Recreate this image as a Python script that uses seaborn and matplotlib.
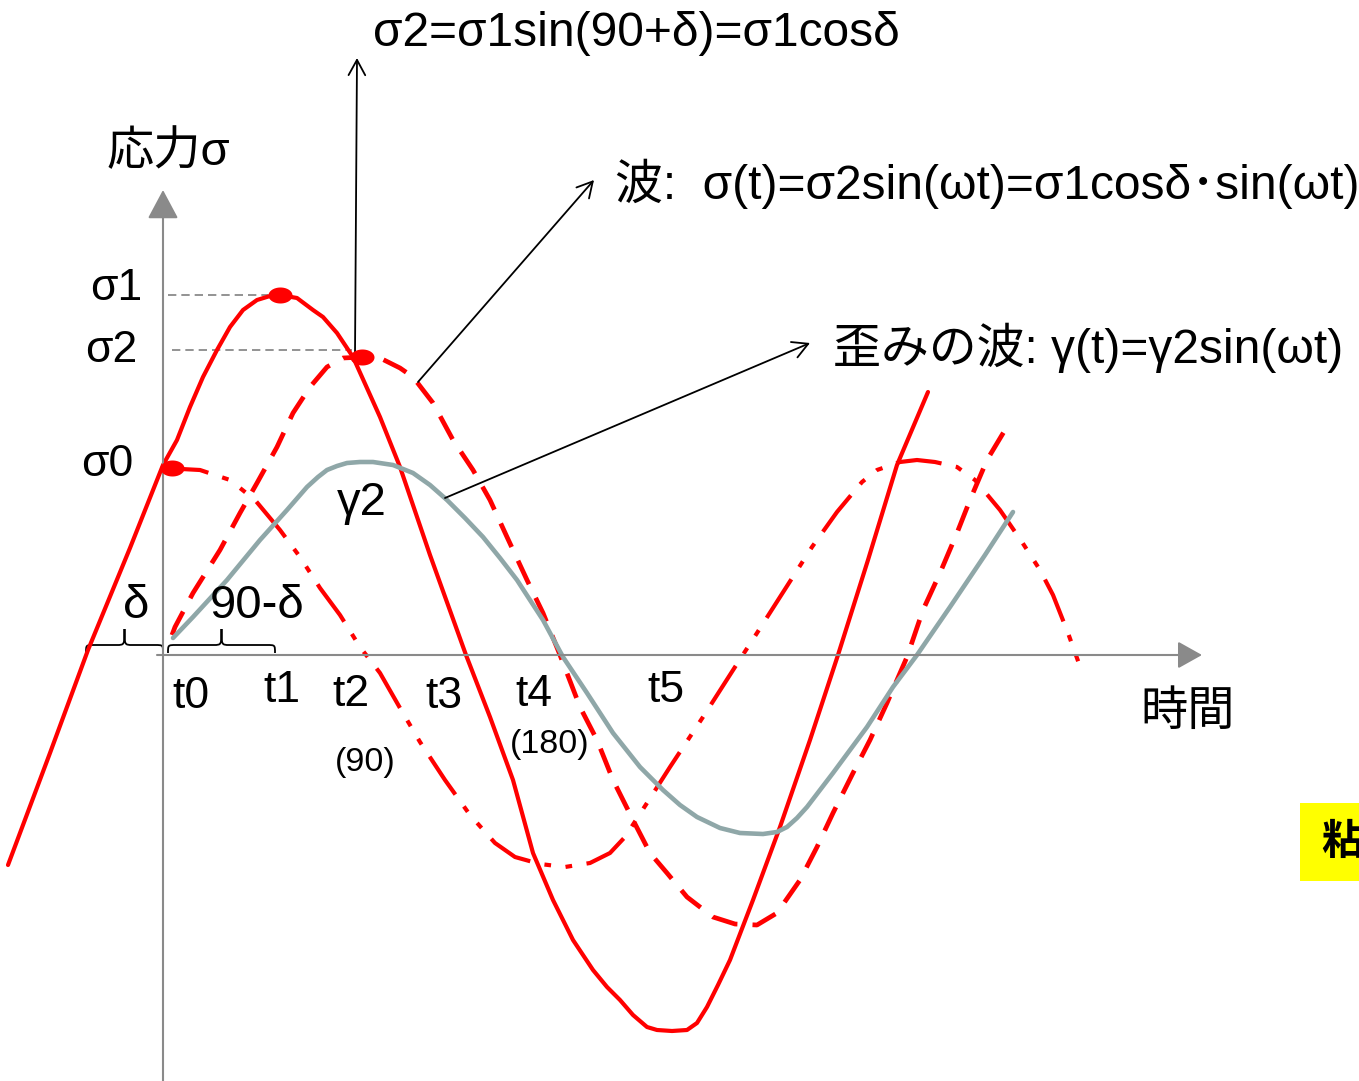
import matplotlib
matplotlib.use("Agg")
import matplotlib.pyplot as plt
import seaborn as sns
from matplotlib.path import Path
from matplotlib.patches import PathPatch, Rectangle
import numpy as np

# curves in pixel coordinates (y grows downward)
stress_x = [8, 50, 88, 130, 163, 177, 190, 203, 217, 230, 243, 257, 270, 280, 297, 313, 323, 337,
            353, 380, 400, 430, 466, 490, 513, 533, 553, 573, 593, 607, 620, 633, 647, 657, 672, 687,
            697, 707, 718, 730, 753, 780, 810, 838, 868, 897, 928]
stress_y = [865, 753, 650, 548, 465, 440, 407, 377, 350, 327, 310, 300, 296, 295, 298, 310, 317, 333,
            357, 417, 467, 555, 655, 717, 780, 853, 900, 940, 970, 987, 1000, 1015, 1027, 1030, 1031,
            1030, 1023, 1007, 985, 960, 900, 827, 740, 655, 560, 465, 392]

wave_x = [172, 175, 193, 220, 240, 257, 277, 293, 310, 327, 343, 363, 380, 400, 413, 433, 453, 473,
          490, 507, 527, 543, 560, 580, 597, 613, 633, 650, 667, 687, 713, 735, 757, 777, 800, 817,
          833, 853, 870, 887, 907, 923, 940, 957, 970, 987, 1005]
wave_y = [635, 627, 593, 550, 513, 483, 447, 413, 387, 367, 358, 357, 358, 368, 377, 403, 440, 470,
          500, 537, 580, 613, 655, 707, 740, 780, 820, 853, 873, 897, 917, 924, 925, 913, 880, 847,
          813, 773, 740, 703, 657, 610, 573, 533, 500, 460, 430]

strain_x = [173, 193, 227, 260, 287, 307, 318, 327, 337, 347, 360, 373, 393, 413, 430, 447, 465, 483,
            500, 517, 543, 563, 587, 613, 640, 663, 680, 697, 720, 740, 763, 777, 787, 797, 807, 833,
            867, 893, 917, 950, 985, 1013]
strain_y = [638, 617, 580, 540, 510, 487, 477, 470, 466, 463, 462, 462, 465, 473, 485, 500, 518, 537,
            558, 580, 620, 657, 693, 733, 767, 790, 805, 817, 828, 833, 834, 832, 827, 818, 807, 773,
            727, 687, 655, 607, 555, 512]

shift_x = [163, 200, 230, 255, 280, 300, 320, 340, 360, 380, 400, 420, 445, 470, 495, 515, 540, 565,
           590, 610, 625, 647, 670, 703, 735, 757, 780, 812, 837, 862, 877, 900, 917, 935, 957, 975,
           1000, 1022, 1040, 1053, 1068, 1082]
shift_y = [468, 470, 480, 500, 530, 557, 588, 615, 647, 673, 708, 742, 780, 815, 843, 857, 864, 867,
           863, 853, 837, 803, 767, 717, 667, 633, 597, 547, 512, 482, 470, 462, 460, 462, 467, 480,
           510, 542, 570, 595, 633, 672]

# σ1, σ2, σ0 points
peak_x = [280, 362, 172]
peak_y = [295, 357, 468]
peak_labels = ["σ1", "σ2", "σ0"]
peak_label_x = [142, 137, 133]
peak_label_y = [288, 350, 465]

# time ticks
t_labels = ["t0", "t1", "t2", "t3", "t4", "t5"]
t_x = [172, 263, 332, 425, 515, 647]
t_y = [697, 690, 695, 697, 695, 690]
deg_labels = ["(90)", "(180)"]
deg_x = [335, 510]
deg_y = [762, 745]

# braces (start, end)
brace_start = [86, 168]
brace_end = [163, 275]
brace_text = ["δ", "90-δ"]
brace_text_x = [123, 210]

formulas = ["σ2=σ1sin(90+δ)=σ1cosδ", "波:  σ(t)=σ2sin(ωt)=σ1cosδ\uff65sin(ωt)", "歪みの波: γ(t)=γ2sin(ωt)"]
formula_pos = [(373, 34), (615, 184), (833, 348)]
arrow_from = [(355, 355), (418, 382), (445, 498)]
arrow_to = [(357, 58), (594, 180), (810, 343)]

RED = "#ff0000"
GRAY_LINE = "#8fa7a8"
AXIS = "#8a8a8a"

sns.set_theme(style="white")
plt.rcParams["font.family"] = ["Liberation Sans", "Noto Sans CJK JP"]
plt.rcParams["text.color"] = "black"

fig = plt.figure(figsize=(13.59, 10.81), dpi=100)
ax = fig.add_axes([0, 0, 1, 1])
ax.set_xlim(0, 1359)
ax.set_ylim(1081, 0)
ax.axis("off")

# axes with arrows
ax.annotate("", xy=(163, 190), xytext=(163, 1081),
            arrowprops=dict(arrowstyle="-|>,head_length=0.9,head_width=0.48", color=AXIS, lw=1.5,
                            mutation_scale=20, shrinkA=0, shrinkB=0))
ax.annotate("", xy=(1202, 655), xytext=(157, 655),
            arrowprops=dict(arrowstyle="-|>,head_length=0.75,head_width=0.42", color=AXIS, lw=1.5,
                            mutation_scale=20, shrinkA=0, shrinkB=0))

# guide lines to σ1, σ2
ax.plot([168, 268], [peak_y[0], peak_y[0]], color="#808080", lw=1.2, linestyle=(0, (5, 3)))
ax.plot([172, 352], [350, 350], color="#808080", lw=1.2, linestyle=(0, (5, 3)))

sns.lineplot(x=shift_x, y=shift_y, sort=False, estimator=None, color=RED, linewidth=3,
             linestyle=(0, (11, 3.5, 1.6, 3.5, 1.6, 3.5)), ax=ax)
sns.lineplot(x=wave_x, y=wave_y, sort=False, estimator=None, color=RED, linewidth=3.4,
             linestyle=(0, (5.5, 3.2)), ax=ax)
sns.lineplot(x=stress_x, y=stress_y, sort=False, estimator=None, color=RED, linewidth=3, ax=ax)
sns.lineplot(x=strain_x, y=strain_y, sort=False, estimator=None, color=GRAY_LINE, linewidth=3.3, ax=ax)
for ln in ax.lines:
    ln.set_solid_joinstyle("round")

# elliptical dots
th = np.linspace(0, 2 * np.pi, 40)
ellipse = Path(np.column_stack([1.5 * np.cos(th), np.sin(th)]))
ax.scatter(peak_x, peak_y, marker=ellipse, s=300, color=RED, zorder=5, linewidths=0)

# annotation arrows
for (tx, ty), (ax_, ay), (fx, fy), txt in zip(formula_pos, arrow_to, arrow_from, formulas):
    ax.annotate("", xy=(ax_, ay), xytext=(fx, fy),
                arrowprops=dict(arrowstyle="->,head_length=0.55,head_width=0.3", color="black",
                                lw=1.3, mutation_scale=20, shrinkA=0, shrinkB=0))
    ax.text(tx, ty, txt, fontsize=34.5, ha="left", va="center", color="black")

ax.text(107, 153, "応力σ", fontsize=34, ha="left", va="center")
ax.text(1140, 713, "時間", fontsize=34, ha="left", va="center")
ax.text(337, 503, "γ2", fontsize=34, ha="left", va="center")

for lab, x, y in zip(peak_labels, peak_label_x, peak_label_y):
    ax.text(x, y, lab, fontsize=32, ha="right", va="center")
for lab, x, y in zip(t_labels, t_x, t_y):
    ax.text(x, y, lab, fontsize=32, ha="left", va="center")
for lab, x, y in zip(deg_labels, deg_x, deg_y):
    ax.text(x, y, lab, fontsize=24.5, ha="left", va="center")


def brace(x0, x1, y, drop=8, rise=16, r=8):
    xm = (x0 + x1) / 2
    yb = y - drop
    verts = [(x0, y), (x0, yb), (x0, yb), (x0 + r, yb),
             (xm - r, yb), (xm, yb), (xm, yb), (xm, y - drop - rise),
             (xm, yb), (xm, yb), (xm + r, yb),
             (x1 - r, yb), (x1, yb), (x1, yb), (x1, y)]
    codes = [Path.MOVETO, Path.CURVE4, Path.CURVE4, Path.CURVE4,
             Path.LINETO, Path.CURVE4, Path.CURVE4, Path.CURVE4,
             Path.CURVE4, Path.CURVE4, Path.CURVE4,
             Path.LINETO, Path.CURVE4, Path.CURVE4, Path.CURVE4]
    return PathPatch(Path(verts, codes), fill=False, lw=1.3, edgecolor="black")


for x0, x1, lab, lx in zip(brace_start, brace_end, brace_text, brace_text_x):
    ax.add_patch(brace(x0, x1, 653))
    ax.text(lx, 606, lab, fontsize=34, ha="left", va="center")

# yellow tag at the right edge
ax.add_patch(Rectangle((1300, 803), 80, 78, facecolor="#ffff00", edgecolor="none", clip_on=False))
ax.text(1321, 842, "粘", fontsize=30, fontweight="bold", ha="left", va="center",
        family=["Noto Sans CJK JP"], color="black")

fig.savefig("out.png", dpi=100)
